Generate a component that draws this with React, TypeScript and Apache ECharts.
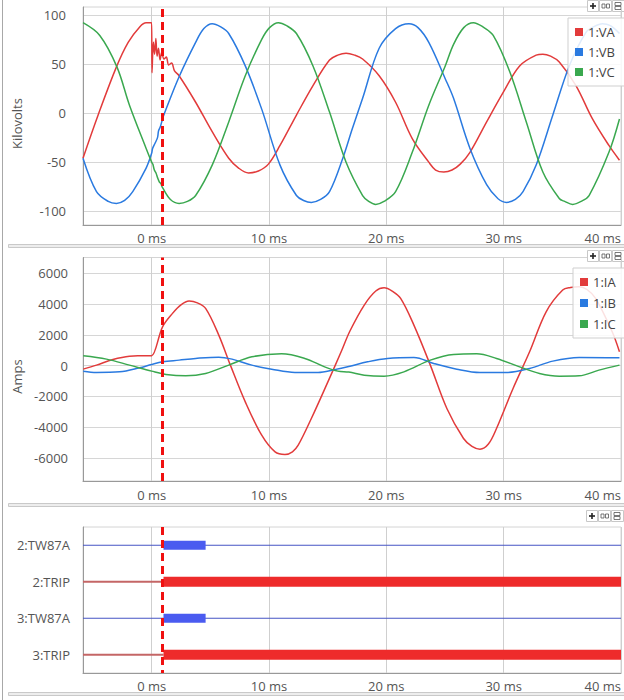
import React, { useEffect, useRef } from 'react';
import * as echarts from 'echarts';

// ---- axes ----
const timeMin = -5.85;
const timeMax = 40;
const timeTicks = [0, 10, 20, 30, 40];
const kvMin = -114;
const kvMax = 108;
const kvTicks = [-100, -50, 0, 50, 100];
const ampMin = -7500;
const ampMax = 7030;
const ampTicks = [-6000, -4000, -2000, 0, 2000, 4000, 6000];
const faultTime = 0.93;

// ---- voltages (ms, kV) ----
const vaData = [
  [-5.85, -46], [-4.56, -2], [-3.0, 47], [-2.0, 72], [-1.0, 88], [-0.47, 92], [0, 92],
  [0.03, 41], [0.15, 72], [0.25, 60], [0.36, 76], [0.46, 58], [0.58, 66], [0.72, 54], [0.86, 62],
  [1.05, 55], [1.25, 57], [1.45, 49], [1.7, 51], [1.95, 43], [2.34, 38], [3.75, 11], [5.16, -19],
  [6.57, -46], [7.41, -56], [8.26, -61], [9.1, -59], [9.95, -52], [10.94, -33], [12.34, -2],
  [13.75, 28], [15.16, 54], [15.86, 59], [16.57, 61], [17.3, 59], [17.98, 55], [19.39, 38],
  [20.79, 11], [22.21, -26], [23.62, -50], [24.2, -58], [24.9, -60], [25.6, -58], [26.3, -52],
  [27.13, -40], [28.55, -9], [29.96, 21], [31.36, 48], [32.77, 59], [33.34, 60], [34.0, 58],
  [34.74, 52], [36.16, 28], [37.57, -6], [38.97, -33], [39.87, -48],
];
const vbData = [
  [-5.85, -46], [-4.7, -80], [-3.7, -90], [-3.0, -92], [-2.3, -89], [-1.61, -80], [-0.47, -56],
  [0, -41], [0.08, -36], [0.28, -31], [0.5, -25], [0.59, -18], [0.74, -14], [0.93, -6], [1.1, 0],
  [2.34, 37], [3.75, 72], [4.45, 86], [5.16, 91], [5.85, 88], [6.57, 81], [7.98, 48], [9.38, 4],
  [10.94, -53], [12.34, -84], [12.95, -89], [13.61, -91], [14.4, -88], [15.16, -80], [16.29, -46],
  [17.1, -16], [17.98, 15], [19.39, 66], [20.79, 86], [21.93, 91], [22.7, 87], [23.62, 72],
  [25.02, 35], [25.73, 15], [27.13, -36], [28.55, -73], [29.5, -87], [30.24, -91], [31.0, -88],
  [31.65, -80], [32.77, -53], [34.19, -2], [35.59, 48], [37.0, 82], [37.7, 88], [38.41, 91],
  [39.1, 89], [39.87, 81],
];
const vcData = [
  [-5.85, 92], [-4.42, 79], [-2.96, 47], [-1.89, 8], [-0.47, -36], [0, -50], [0.1, -52],
  [0.23, -58], [0.37, -61], [0.51, -66], [0.65, -70], [0.79, -72], [0.93, -76], [1.6, -88],
  [2.34, -92], [3.05, -90], [3.75, -84], [5.16, -53], [6.57, -9], [7.98, 38], [9.38, 75],
  [10.05, 87], [10.8, 92], [11.5, 89], [12.34, 81], [13.75, 48], [15.16, 1], [16.57, -50],
  [17.98, -84], [18.5, -90], [19.1, -93], [19.8, -90], [20.79, -80], [22.21, -40], [23.62, 8],
  [25.02, 48], [25.73, 70], [26.6, 87], [27.42, 92], [28.2, 88], [29.11, 79], [30.52, 42],
  [31.93, -9], [33.34, -60], [34.74, -87], [35.2, -90], [35.88, -93], [36.6, -90], [37.28, -84],
  [38.97, -40], [39.87, -6],
];

// ---- currents (ms, A) ----
const iaData = [
  [-5.83, -228], [-4.7, 33], [-3.3, 403], [-1.89, 618], [-1.0, 640], [-0.15, 643], [0, 645],
  [0.93, 2525], [1.78, 3397], [2.5, 3950], [3.19, 4197], [3.9, 4080], [4.6, 3722], [5.72, 1985],
  [6.71, 33], [7.98, -2356], [9.38, -4523], [10.52, -5609], [11.36, -5779], [12.0, -5600],
  [12.49, -5173], [13.61, -3436], [15.02, -1054], [16.15, 898], [16.9, 2250], [18.12, 3937],
  [19.1, 4850], [19.81, 5063], [20.5, 4850], [21.22, 4373], [22.35, 2636], [23.75, 33],
  [25.16, -2785], [26.58, -4737], [27.3, -5250], [27.98, -5434], [28.7, -5100], [29.39, -4087],
  [30.8, -1484], [32.21, 898], [33.62, 3501], [35.03, 4913], [35.7, 5080], [36.43, 5128],
  [37.1, 4950], [37.84, 4373], [39.25, 2200], [39.87, 898],
];
const ibData = [
  [-5.83, -358], [-4.7, -443], [-2.73, -403], [-1.04, -143], [0, 78], [0.93, 247], [2.34, 358],
  [3.75, 469], [5.72, 553], [6.85, 423], [8.54, 33], [10.23, -228], [12.21, -443], [14.18, -443],
  [15.59, -260], [16.8, -60], [18.4, 247], [20.09, 469], [22.35, 534], [24.04, 143], [26.01, -228],
  [27.98, -443], [30.24, -443], [32.21, -182], [34.19, 293], [36.43, 534], [39.87, 508],
];
const icData = [
  [-5.83, 638], [-3.85, 423], [-1.89, 33], [0, -358], [1.22, -573], [2.91, -664], [4.6, -508],
  [6.57, 33], [8.54, 573], [11.07, 768], [13.05, 469], [14.74, -78], [15.87, -358], [16.8, -420],
  [18.12, -618], [19.81, -683], [21.5, -403], [23.75, 358], [25.73, 729], [27.7, 768], [29.39, 469],
  [31.36, -78], [33.05, -508], [34.74, -683], [36.43, -664], [38.12, -293], [39.87, 33],
];

// ---- digital channels ----
const digitalChannels = ['2:TW87A', '2:TRIP', '3:TW87A', '3:TRIP'];
const tw87aPulse = [1.01, 4.6];
const tripStart = 1.01;

const FONT = 'Open Sans';
const LABEL = '#555';
const RED = '#e23b3b';
const BLUE = '#2a7ae0';
const GREEN = '#3aa84f';

function analog(name: string, data: number[][], color: string, idx: number) {
  return {
    type: 'line', name, data, xAxisIndex: idx, yAxisIndex: idx,
    showSymbol: false, smooth: 0.35, clip: true,
    lineStyle: { color, width: 1.5 }, itemStyle: { color },
    emphasis: { disabled: true },
  };
}

function faultMarker(idx: number, yVal: any) {
  return {
    type: 'line', data: [[faultTime, yVal]], xAxisIndex: idx, yAxisIndex: idx,
    showSymbol: false, silent: true, z: 10, lineStyle: { opacity: 0 },
    markLine: {
      silent: true, symbol: ['none', 'none'], label: { show: false },
      lineStyle: { color: '#f01010', width: 3, type: [8, 5], opacity: 1 },
      data: [{ xAxis: faultTime }],
    },
  };
}

function xAxis(idx: number, margin: number) {
  return {
    type: 'value', gridIndex: idx, min: timeMin, max: timeMax,
    axisLine: { show: true, onZero: false, lineStyle: { color: '#999' } },
    axisTick: { show: false, customValues: timeTicks },
    axisLabel: {
      customValues: timeTicks, formatter: '{value} ms', color: LABEL, fontSize: 13,
      fontFamily: FONT, margin, alignMaxLabel: 'right',
    },
    splitLine: { show: true, lineStyle: { color: '#cfcfcf', width: 1 } },
  };
}

function yValueAxis(idx: number, min: number, max: number, ticks: number[], margin: number) {
  return {
    type: 'value', gridIndex: idx, min, max,
    axisLine: { show: true, onZero: false, lineStyle: { color: '#999' } },
    axisTick: { show: false, customValues: ticks },
    axisLabel: {
      customValues: ticks, color: LABEL, fontSize: 13, fontFamily: FONT, margin,
      formatter: (v: number) => String(v),
    },
    splitLine: { show: true, lineStyle: { color: '#d6d6d6', width: 1 } },
  };
}

function toolbar(x: number, y: number) {
  return {
    type: 'group', x, y, silent: true,
    children: [
      { type: 'rect', shape: { x: 0.5, y: 0.5, width: 11, height: 11 }, style: { fill: '#fff', stroke: '#c8c8c8' } },
      { type: 'rect', shape: { x: 3, y: 5.2, width: 6, height: 1.6 }, style: { fill: '#222' } },
      { type: 'rect', shape: { x: 5.2, y: 3, width: 1.6, height: 6 }, style: { fill: '#222' } },
      { type: 'rect', shape: { x: 12.5, y: 0.5, width: 12, height: 11 }, style: { fill: '#fff', stroke: '#c8c8c8' } },
      { type: 'rect', shape: { x: 15, y: 4, width: 3, height: 4 }, style: { fill: 'none', stroke: '#555', lineWidth: 0.8 } },
      { type: 'rect', shape: { x: 19.5, y: 4, width: 3, height: 4 }, style: { fill: 'none', stroke: '#555', lineWidth: 0.8 } },
      { type: 'rect', shape: { x: 25.5, y: 0.5, width: 12, height: 11 }, style: { fill: '#fff', stroke: '#c8c8c8' } },
      { type: 'rect', shape: { x: 28, y: 2.5, width: 6, height: 3 }, style: { fill: 'none', stroke: '#555', lineWidth: 0.8 } },
      { type: 'rect', shape: { x: 28, y: 6.5, width: 6, height: 3 }, style: { fill: 'none', stroke: '#555', lineWidth: 0.8 } },
    ],
  };
}

function separator(y: number) {
  return {
    type: 'rect', silent: true,
    shape: { x: 8.5, y: y + 0.5, width: 620, height: 3 },
    style: { fill: '#ededed', stroke: '#c9c9c9', lineWidth: 1 },
  };
}

function legend(names: string[], left: number, top: number, gap: number) {
  return {
    data: names, left, top, orient: 'vertical', icon: 'rect',
    itemWidth: 8, itemHeight: 8, itemGap: gap,
    padding: [7, 14, 7, 7],
    backgroundColor: 'rgba(255,255,255,0.85)', borderColor: '#cfcfcf', borderWidth: 1,
    textStyle: { color: '#444', fontSize: 13, fontFamily: FONT, lineHeight: 14 },
    selectedMode: false,
  };
}

export default function App() {
  const ref = useRef<HTMLDivElement>(null);
  useEffect(() => {
    if (!ref.current) return;
    const chart = echarts.init(ref.current, undefined, { renderer: 'svg' });

    const digitalSeries: any[] = [];
    digitalChannels.forEach((ch) => {
      if (ch.indexOf('TW87A') >= 0) {
        digitalSeries.push({
          type: 'line', xAxisIndex: 2, yAxisIndex: 2, showSymbol: false, silent: true,
          data: [[timeMin, ch], [timeMax, ch]], lineStyle: { color: '#4655c4', width: 1.2 },
        });
        digitalSeries.push({
          type: 'line', xAxisIndex: 2, yAxisIndex: 2, showSymbol: false, silent: true,
          data: [[tw87aPulse[0], ch], [tw87aPulse[1], ch]], lineStyle: { color: '#4a5bf0', width: 9, cap: 'butt' },
        });
      } else {
        digitalSeries.push({
          type: 'line', xAxisIndex: 2, yAxisIndex: 2, showSymbol: false, silent: true,
          data: [[timeMin, ch], [tripStart, ch]], lineStyle: { color: '#c46666', width: 2 },
        });
        digitalSeries.push({
          type: 'line', xAxisIndex: 2, yAxisIndex: 2, showSymbol: false, silent: true,
          data: [[tripStart, ch], [timeMax, ch]], lineStyle: { color: '#ee2b2b', width: 10, cap: 'butt' },
        });
      }
    });

    chart.setOption({
      animation: false,
      textStyle: { fontFamily: FONT },
      grid: [
        { left: 83, top: 7, right: 0, height: 218, show: true, borderColor: '#d4d4d4', borderWidth: 1 },
        { left: 83, top: 257.5, right: 0, height: 223.5, show: true, borderColor: '#d4d4d4', borderWidth: 1 },
        { left: 83, top: 527, right: 0, height: 146, show: true, borderColor: '#d4d4d4', borderWidth: 1 },
      ],
      xAxis: [xAxis(0, 6), xAxis(1, 7), xAxis(2, 6)],
      yAxis: [
        yValueAxis(0, kvMin, kvMax, kvTicks, 17),
        yValueAxis(1, ampMin, ampMax, ampTicks, 15),
        {
          type: 'category', gridIndex: 2, data: digitalChannels, inverse: true, boundaryGap: true,
          axisLine: { show: true, onZero: false, lineStyle: { color: '#999' } },
          axisTick: { show: false },
          axisLabel: { color: LABEL, fontSize: 13, fontFamily: FONT, margin: 13 },
          splitLine: { show: false },
        },
      ],
      legend: [
        legend(['1:VA', '1:VB', '1:VC'], 568, 18, 6),
        legend(['1:IA', '1:IB', '1:IC'], 573, 268, 7),
      ],
      series: [
        analog('1:VA', vaData, RED, 0),
        analog('1:VB', vbData, BLUE, 0),
        analog('1:VC', vcData, GREEN, 0),
        analog('1:IA', iaData, RED, 1),
        analog('1:IB', ibData, BLUE, 1),
        analog('1:IC', icData, GREEN, 1),
        ...digitalSeries,
        faultMarker(0, 0),
        faultMarker(1, 0),
        faultMarker(2, digitalChannels[0]),
      ],
      graphic: [
        { type: 'line', silent: true, shape: { x1: 2.5, y1: 0, x2: 2.5, y2: 700 }, style: { stroke: '#a8a8a8', lineWidth: 1 } },
        separator(244),
        separator(503),
        separator(692),
        toolbar(587, 0),
        toolbar(587, 250),
        toolbar(586, 510),
        { type: 'text', x: 16.7, y: 123.5, rotation: Math.PI / 2, silent: true, style: { text: 'Kilovolts', fontSize: 13, fill: LABEL, fontFamily: FONT, align: 'center', verticalAlign: 'middle' } },
        { type: 'text', x: 16.7, y: 376.5, rotation: Math.PI / 2, silent: true, style: { text: 'Amps', fontSize: 13, fill: LABEL, fontFamily: FONT, align: 'center', verticalAlign: 'middle' } },
      ],
    });
    return () => chart.dispose();
  }, []);
  return <div ref={ref} style={{ position: 'absolute', left: 0, top: 0, width: 624, height: 700, background: '#fff' }} />;
}
